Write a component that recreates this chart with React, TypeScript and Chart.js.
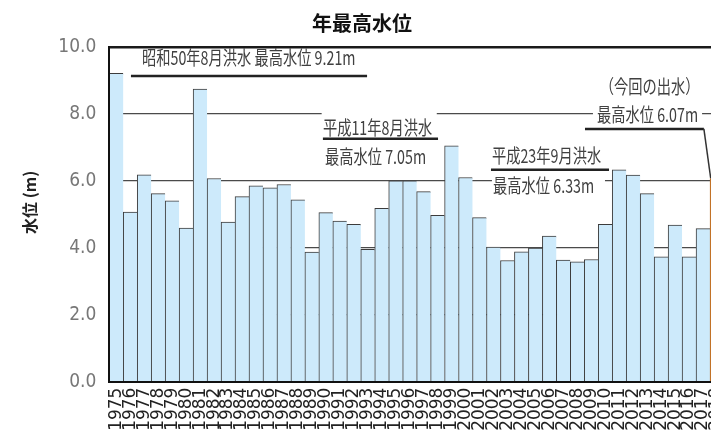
import React, { useEffect, useRef } from 'react';
import { Chart, registerables } from 'chart.js';

Chart.register(...registerables);

// ---- data ----
const years = [
  '1975', '1976', '1977', '1978', '1979', '1980', '1981', '1982', '1983', '1984',
  '1985', '1986', '1987', '1988', '1989', '1990', '1991', '1992', '1993', '1994',
  '1995', '1996', '1997', '1998', '1999', '2000', '2001', '2002', '2003', '2004',
  '2005', '2006', '2007', '2008', '2009', '2010', '2011', '2012', '2013', '2014',
  '2015', '2016', '2017', '2018',
];
const levels = [
  9.21, 5.07, 6.18, 5.62, 5.40, 4.59, 8.74, 6.07, 4.77, 5.53,
  5.85, 5.79, 5.89, 5.43, 3.87, 5.05, 4.80, 4.70, 3.95, 5.18,
  6.00, 6.00, 5.68, 4.97, 7.05, 6.10, 4.90, 4.02, 3.62, 3.88,
  3.99, 4.35, 3.63, 3.58, 3.65, 4.70, 6.33, 6.17, 5.62, 3.73,
  4.68, 3.73, 4.57, 6.07,
];
const currentFloodIndex = 43; // 今回の出水
const chartTitle = '年最高水位';
const yAxisTitle = '水位 (m)';
const noteTexts = [
  '昭和50年8月洪水 最高水位 9.21m',
  '平成11年8月洪水',
  '最高水位 7.05m',
  '平成23年9月洪水',
  '最高水位 6.33m',
  '（今回の出水）',
  '最高水位 6.07m',
];

const FONT_JP = "'Noto Sans CJK JP', 'Noto Sans CJK SC', sans-serif";

export default function App() {
  const ref = useRef<HTMLCanvasElement>(null);

  useEffect(() => {
    const canvas = ref.current;
    if (!canvas) return;

    // annotation placement in (category-edge units, value units)
    const notePos = [
      { c: 2.34, v: 9.69 },
      { c: 15.29, v: 7.59 },
      { c: 15.44, v: 6.73 },
      { c: 27.39, v: 6.74 },
      { c: 27.47, v: 5.84 },
      { c: 35.1, v: 8.81 },
      { c: 34.91, v: 7.97 },
    ];
    const gaps = [
      { c0: 15.2, c1: 23.44, v0: 7.9, v1: 8.1 },
      { c0: 27.39, c1: 35.48, v0: 5.9, v1: 6.1 },
      { c0: 34.62, c1: 42.43, v0: 7.9, v1: 8.1 },
    ];
    const underlines = [
      { c0: 1.55, c1: 18.45, v: 9.13 },
      { c0: 15.29, c1: 23.53, v: 7.26 },
      { c0: 27.32, c1: 35.77, v: 6.33 },
      { c0: 34.05, c1: 42.56, v: 7.55 },
    ];

    const notesPlugin = {
      id: 'floodNotes',
      beforeDatasetsDraw(chart: any) {
        const { ctx } = chart;
        const xs = chart.scales.x;
        const ys = chart.scales.y;
        const step = xs.getPixelForValue(1) - xs.getPixelForValue(0);
        const X = (c: number) => xs.getPixelForValue(0) - step / 2 + c * step;
        const Y = (v: number) => ys.getPixelForValue(v);
        ctx.save();
        ctx.fillStyle = '#ffffff';
        for (const g of gaps) {
          ctx.fillRect(X(g.c0), Y(g.v1), X(g.c1) - X(g.c0), Y(g.v0) - Y(g.v1));
        }
        ctx.fillStyle = '#404040';
        ctx.font = `19px ${FONT_JP}`;
        ctx.textAlign = 'left';
        ctx.textBaseline = 'middle';
        noteTexts.forEach((t, i) => {
          const p = notePos[i];
          ctx.save();
          ctx.translate(X(p.c), Y(p.v));
          ctx.scale(0.75, 1);
          ctx.fillText(t, 0, 0);
          ctx.restore();
        });
        ctx.strokeStyle = '#222';
        ctx.lineWidth = 2.5;
        for (const u of underlines) {
          ctx.beginPath();
          ctx.moveTo(X(u.c0), Y(u.v));
          ctx.lineTo(X(u.c1), Y(u.v));
          ctx.stroke();
        }
        // leader to current flood bar
        ctx.lineWidth = 1.5;
        ctx.strokeStyle = '#333';
        ctx.beginPath();
        ctx.moveTo(X(42.56), Y(7.55));
        ctx.lineTo(X(currentFloodIndex + 0.05), Y(levels[currentFloodIndex]));
        ctx.stroke();
        ctx.restore();
      },
      afterDraw(chart: any) {
        const { ctx, chartArea } = chart;
        ctx.save();
        ctx.translate(chartArea.left - 79, (chartArea.top + chartArea.bottom) / 2 - 12);
        ctx.rotate(-Math.PI / 2);
        ctx.font = `bold 16px ${FONT_JP}`;
        ctx.fillStyle = '#222';
        ctx.textAlign = 'center';
        ctx.textBaseline = 'middle';
        ctx.fillText(yAxisTitle, 0, 0);
        ctx.restore();
      },
    };

    const chart = new Chart(canvas, {
      type: 'bar',
      data: {
        labels: years,
        datasets: [
          {
            data: levels,
            backgroundColor: years.map((_, i) => (i === currentFloodIndex ? '#e0913f' : '#cdeafb')),
            borderColor: years.map((_, i) => (i === currentFloodIndex ? '#b5651d' : '#3c3c3c')),
            borderWidth: { top: 1, left: 1, right: 0, bottom: 0 },
            barPercentage: 1,
            categoryPercentage: 1,
          },
        ],
      },
      options: {
        responsive: false,
        maintainAspectRatio: false,
        animation: false,
        layout: { padding: { left: 0, right: 48, top: 0, bottom: 0 } },
        plugins: {
          legend: { display: false },
          tooltip: { enabled: false },
          title: {
            display: true,
            text: chartTitle,
            color: '#111',
            font: { family: FONT_JP, size: 20, weight: 'bold' },
            padding: { top: 11, bottom: 12 },
          },
        },
        scales: {
          x: {
            grid: { display: false, drawTicks: false },
            border: { display: true, color: '#111', width: 2, z: 1 },
            ticks: {
              autoSkip: false,
              minRotation: 90,
              maxRotation: 90,
              padding: 6,
              color: '#222',
              font: { family: "'DejaVu Sans', sans-serif", size: 17 },
            },
            afterFit: (s: any) => {
              s.height = 52.4;
              s.paddingLeft = 0;
              s.paddingRight = 0;
            },
          },
          y: {
            min: 0,
            max: 10,
            ticks: {
              stepSize: 2,
              padding: 13,
              color: '#777777',
              font: { family: "'Liberation Sans Narrow', 'DejaVu Sans Condensed', sans-serif", size: 19 },
              callback: (v: any) => Number(v).toFixed(1),
            },
            grid: {
              drawTicks: false,
              color: (c: any) => (c.tick && c.tick.value === 10 ? '#1a1a1a' : '#4a4a4a'),
              lineWidth: (c: any) => (c.tick && c.tick.value === 10 ? 2.5 : 1.3),
            },
            border: { display: true, color: '#111', width: 2, z: 1 },
            afterFit: (s: any) => {
              s.width = 109.3;
            },
          },
        },
      },
      plugins: [notesPlugin],
    } as any);

    return () => chart.destroy();
  }, []);

  return (
    <div
      style={{
        position: 'fixed',
        left: 0,
        top: 0,
        width: 711,
        height: 434,
        overflow: 'hidden',
        background: '#fff',
      }}
    >
      <canvas ref={ref} width={772} height={434} style={{ display: 'block', width: '772px', height: '434px' }} />
    </div>
  );
}
